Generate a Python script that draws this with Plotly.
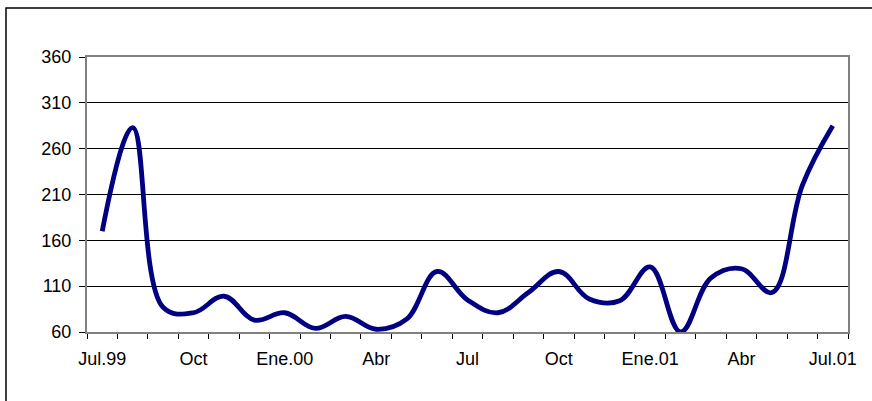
import plotly.graph_objects as go

# Monthly series, Jul.99 - Jul.01
months = ["Jul.99", "Ago", "Sep", "Oct", "Nov", "Dic", "Ene.00", "Feb", "Mar", "Abr",
          "May", "Jun", "Jul", "Ago", "Sep", "Oct", "Nov", "Dic", "Ene.01", "Feb",
          "Mar", "Abr", "May", "Jun", "Jul.01"]
values = [170, 283, 87, 81, 99, 73, 81, 64, 77, 63,
          74, 126, 95, 81, 103, 126, 96, 94, 131, 60,
          119, 129, 103, 220, 285]
# Axis labels shown every third month
shown_labels = ["Jul.99", "Oct", "Ene.00", "Abr", "Jul", "Oct", "Ene.01", "Abr", "Jul.01"]
y_ticks = [60, 110, 160, 210, 260, 310, 360]

x_pos = list(range(len(months)))
label_pos = x_pos[::3]

W, H = 872, 401
L, R, T, B = 87, 24, 57, 69
pw, ph = W - L - R, H - T - B

fig = go.Figure()
fig.add_trace(go.Scatter(
    x=x_pos, y=values, mode="lines",
    line=dict(color="#000080", width=4.8, shape="spline", smoothing=1.1),
    hovertext=months, showlegend=False,
))

font = dict(family="Liberation Sans, Arial, sans-serif", size=18, color="#000000")

fig.update_layout(
    width=W, height=H,
    margin=dict(l=L, r=R, t=T, b=B, autoexpand=False),
    paper_bgcolor="white", plot_bgcolor="white",
    font=font,
    xaxis=dict(
        range=[-0.5, len(months) - 0.5],
        tickmode="array", tickvals=label_pos, ticktext=shown_labels,
        ticks="", showgrid=False, zeroline=False, ticklabelstandoff=9,
        showline=True, linecolor="#808080", linewidth=2, mirror=True,
        minor=dict(tickmode="linear", tick0=-0.5, dtick=1, ticks="outside",
                   ticklen=5, tickwidth=1, tickcolor="#000000", showgrid=False),
        tickfont=font,
    ),
    yaxis=dict(
        range=[60, 360], tickmode="array", tickvals=y_ticks,
        ticks="outside", ticklen=6, tickwidth=1, tickcolor="#000000",
        ticklabelstandoff=4,
        showgrid=True, gridcolor="#000000", gridwidth=1, zeroline=False,
        showline=True, linecolor="#808080", linewidth=2, mirror=True,
        tickfont=font,
    ),
    shapes=[
        # outer chart frame
        dict(type="rect", xref="paper", yref="paper", layer="above",
             x0=(6 - L) / pw, x1=(W + 10 - L) / pw,
             y0=-(H + 10 - T - ph) / ph, y1=(T + ph - 8) / ph,
             line=dict(color="#000000", width=1.5), fillcolor="rgba(0,0,0,0)"),
    ],
)

fig.write_html("out.html")
